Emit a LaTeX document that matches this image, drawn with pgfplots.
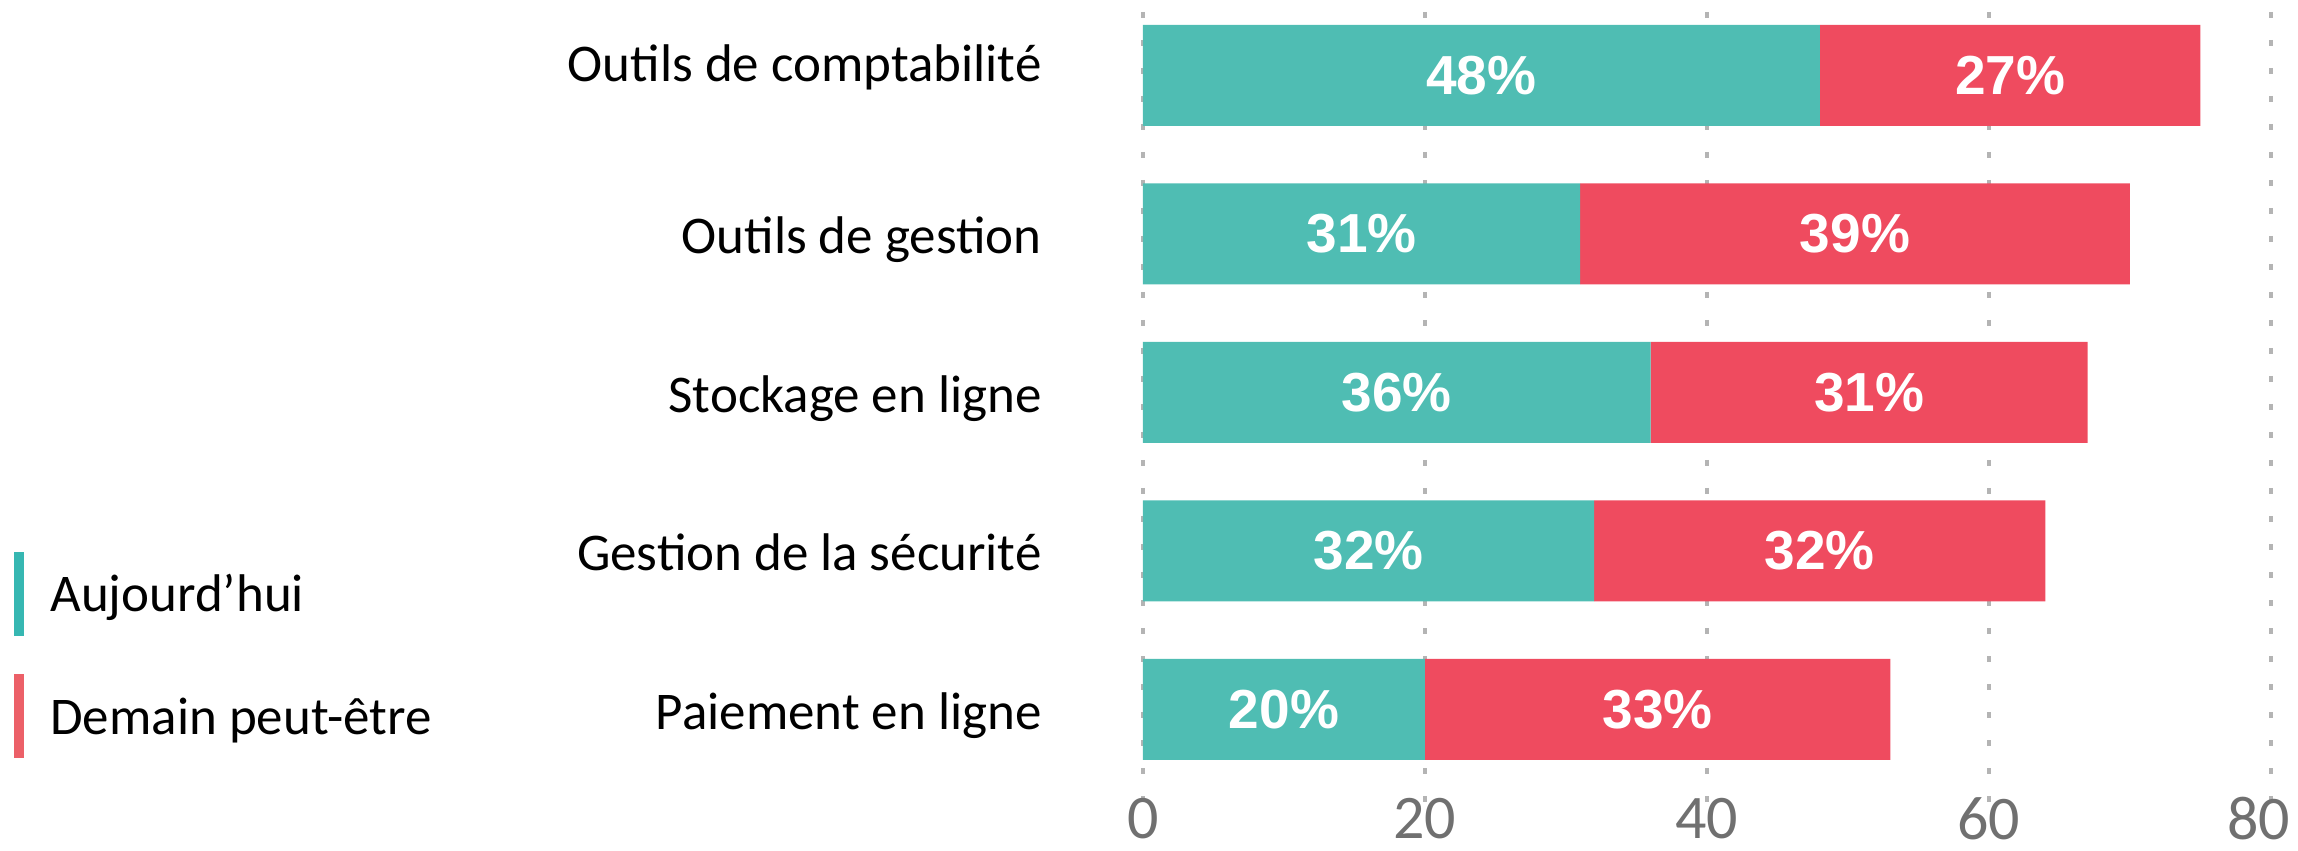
\documentclass[border=0pt]{standalone}
\usepackage{fontspec}
\setmainfont{Carlito}
\newfontfamily\valfont{Liberation Sans}
\usepackage{pgfplots}
\usepackage{pgfplotstable}
\pgfplotsset{compat=1.18}

\definecolor{barteal}{HTML}{4FBDB3}
\definecolor{barred}{HTML}{EF4B5F}
\definecolor{legteal}{HTML}{36B7B2}
\definecolor{legred}{HTML}{EC6068}
\definecolor{gridgray}{HTML}{B4B4B4}
\definecolor{tickgray}{HTML}{707070}

\pgfplotstableread{
cat a b
0 48 27
1 31 39
2 36 31
3 32 32
4 20 33
}\datatable

\begin{document}
\begin{tikzpicture}
\begin{axis}[
  at={(0pt,0pt)}, anchor=south west,
  width=564pt, height=395.5pt, scale only axis,
  xbar stacked,
  bar width=50.5pt,
  xmin=0, xmax=80,
  ymin=-0.4006, ymax=4.59,
  y dir=reverse,
  xtick={0,20,40,60,80},
  xticklabels={0,20,40,60,\kern-12pt 80},
  ytick={0,1,2,3,4},
  yticklabels={\raisebox{7pt}{Outils de comptabilité},Outils de gestion,Stockage en ligne,Gestion de la sécurité,Paiement en ligne},
  axis line style={draw=none},
  tick style={draw=none},
  major tick length=0pt,
  xmajorgrids,
  major grid style={color=gridgray, line width=1.75pt, dash pattern=on 3pt off 11pt},
  xticklabel style={font=\fontsize{31}{31}\selectfont, text=tickgray, anchor=center, yshift=-8pt, inner sep=0pt},
  yticklabel style={font=\fontsize{26.5}{26.5}\selectfont, text=black, anchor=base east, xshift=-50.5pt, yshift=-10pt, inner sep=0pt},
  /pgf/number format/assume math mode=true,
  clip=false,
  nodes near coords={\pgfmathprintnumber{\pgfplotspointmeta}\%},
  point meta=explicit,
  every node near coord/.append style={font=\valfont\bfseries\fontsize{27.5}{27.5}\selectfont, text=white, anchor=center},
]
\addplot[fill=barteal, draw=none]
  table[x=a, y=cat, meta=a] {\datatable};
\addplot[fill=barred, draw=none]
  table[x=b, y=cat, meta=b] {\datatable};
\end{axis}
% legend
\fill[legteal] (-564.5pt,83.5pt) rectangle (-559.5pt,125.65pt);
\fill[legred] (-564.5pt,22.65pt) rectangle (-559.5pt,64.5pt);
\node[anchor=base west, inner sep=0pt, font=\fontsize{26.5}{26.5}\selectfont] at (-546.5pt,95.5pt) {Aujourd’hui};
\node[anchor=base west, inner sep=0pt, font=\fontsize{26.5}{26.5}\selectfont] at (-546.5pt,34pt) {Demain peut-être};
\pgfresetboundingbox
\path[use as bounding box] (-571.5pt,-24pt) rectangle (577.5pt,401.5pt);
\end{tikzpicture}
\end{document}
